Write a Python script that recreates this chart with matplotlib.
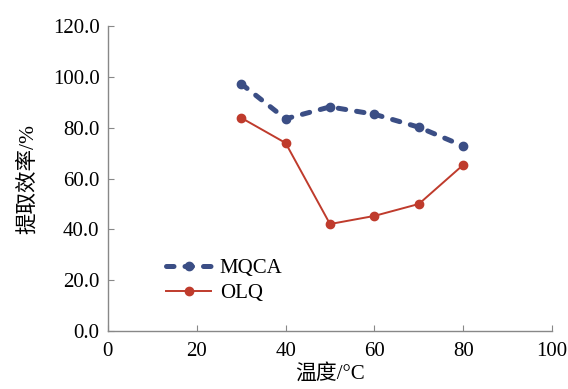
import matplotlib.pyplot as plt
from matplotlib.ticker import FormatStrFormatter

temps = [30, 40, 50, 60, 70, 80]
mqca = [97.3, 83.5, 88.2, 85.3, 80.2, 72.8]
olq = [83.9, 74.0, 42.1, 45.3, 50.0, 65.4]

plt.rcParams['font.family'] = ['Liberation Serif', 'Noto Sans CJK SC']

fig = plt.figure(figsize=(5.68, 3.89), dpi=100)
ax = fig.add_axes([0.190, 0.149, 0.782, 0.784])

ax.plot(temps, mqca, color='#3B4E85', lw=3.6, ls=(0, (1.5, 2.2)), marker='o', ms=6,
        label='MQCA', dash_capstyle='round')
ax.plot(temps, olq, color='#BF3B2C', lw=1.4, marker='o', ms=6, label='OLQ')

ax.set_xlim(0, 100)
ax.set_ylim(0, 120)
ax.set_xticks(range(0, 101, 20))
ax.set_yticks(range(0, 121, 20))
ax.yaxis.set_major_formatter(FormatStrFormatter('%.1f'))
ax.tick_params(direction='in', length=4, color='#888888', labelsize=15, pad=6)
ax.tick_params(axis='x', pad=8)
for s in ['top', 'right']:
    ax.spines[s].set_visible(False)
for s in ['left', 'bottom']:
    ax.spines[s].set_color('#888888')
    ax.spines[s].set_linewidth(1)

ax.set_xlabel('温度/°C', fontsize=15, labelpad=2)
ax.set_ylabel('提取效率/%', fontsize=15.5, labelpad=11)

ax.legend(loc='upper left', bbox_to_anchor=(0.13, 0.237), frameon=False, fontsize=15,
          handlelength=2.2, labelspacing=0.25, handletextpad=0.4, borderpad=0,
          borderaxespad=0)

fig.savefig('out.png', dpi=100)
